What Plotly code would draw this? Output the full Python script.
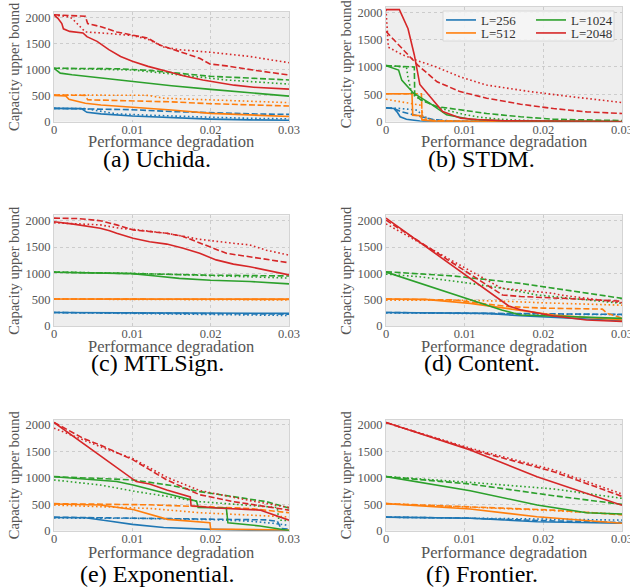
import plotly.graph_objects as go

# ---------------- data ----------------
L_VALUES = [256, 512, 1024, 2048]
L_LABELS = ["L=256", "L=512", "L=1024", "L=2048"]
COLORS = ["#1f77b4", "#ff7f0e", "#2ca02c", "#d62728"]
STYLES = ["solid", "dashed", "dotted"]
X_TICKS = [0, 0.01, 0.02, 0.03]
X_TICK_LABELS = ["0", "0.01", "0.02", "0.03"]
Y_TICKS = [0, 500, 1000, 1500, 2000]
Y_TICK_LABELS = ["0", "500", "1000", "1500", "2000"]
CAPTIONS = ["(a) Uchida.", "(b) STDM.", "(c) MTLSign.", "(d) Content.",
            "(e) Exponential.", "(f) Frontier."]
X_TITLE = "Performance degradation"
Y_TITLE = "Capacity upper bound"

uchida = {
    (256, "solid"): ([0, 0.0035, 0.0042, 0.006, 0.01, 0.015, 0.02, 0.025, 0.03],
                     [256, 250, 180, 150, 110, 80, 50, 35, 28]),
    (256, "dashed"): ([0, 0.005, 0.01, 0.015, 0.02, 0.025, 0.03],
                      [256, 250, 230, 195, 170, 150, 140]),
    (256, "dotted"): ([0, 0.004, 0.006, 0.008, 0.012, 0.015, 0.02, 0.025, 0.03],
                      [256, 250, 200, 150, 125, 105, 85, 65, 55]),
    (512, "solid"): ([0, 0.0015, 0.0019, 0.004, 0.006, 0.0104, 0.015, 0.02, 0.025, 0.03],
                     [505, 495, 430, 355, 320, 275, 225, 160, 125, 100]),
    (512, "dashed"): ([0, 0.004, 0.0043, 0.01, 0.015, 0.02, 0.025, 0.03],
                      [512, 505, 420, 400, 380, 345, 320, 300]),
    (512, "dotted"): ([0, 0.012, 0.014, 0.02, 0.03],
                      [512, 505, 450, 415, 365]),
    (1024, "solid"): ([0, 0.0003, 0.0008, 0.0023, 0.006, 0.01, 0.015, 0.02, 0.025, 0.03],
                      [1024, 990, 930, 900, 835, 770, 690, 620, 550, 490]),
    (1024, "dashed"): ([0, 0.008, 0.012, 0.016, 0.02, 0.025, 0.03],
                       [1024, 1015, 985, 930, 870, 835, 800]),
    (1024, "dotted"): ([0, 0.005, 0.01, 0.014, 0.018, 0.022, 0.026, 0.03],
                       [1024, 1000, 990, 930, 870, 800, 760, 720]),
    (2048, "solid"): ([0, 0.0005, 0.001, 0.0012, 0.002, 0.0037, 0.0042, 0.0055, 0.007, 0.0085,
                       0.01, 0.012, 0.0145, 0.0165, 0.019, 0.021, 0.023, 0.0255, 0.03],
                      [2048, 1980, 1880, 1780, 1730, 1700, 1630, 1540, 1380, 1250,
                       1160, 1060, 960, 880, 800, 750, 700, 660, 625]),
    (2048, "dashed"): ([0, 0.004, 0.0043, 0.006, 0.008, 0.01, 0.012, 0.0135, 0.0152, 0.0169,
                        0.0186, 0.0199, 0.022, 0.0254, 0.03],
                       [2048, 2020, 1880, 1820, 1720, 1660, 1600, 1470, 1390, 1310,
                        1215, 1105, 1070, 990, 895]),
    (2048, "dotted"): ([0, 0.0015, 0.0023, 0.0031, 0.004, 0.007, 0.01, 0.012, 0.014, 0.016,
                        0.02, 0.025, 0.03],
                       [2040, 2020, 1980, 1850, 1720, 1690, 1650, 1580, 1430, 1380,
                        1330, 1250, 1130]),
}

stdm = {
    (256, "solid"): ([0, 0.0006, 0.001, 0.0014, 0.0018, 0.0026, 0.0043, 0.006, 0.03],
                     [256, 250, 240, 180, 90, 45, 12, 3, 0]),
    (256, "dashed"): ([0, 0.001, 0.002, 0.003, 0.0045, 0.006, 0.008, 0.03],
                      [256, 240, 180, 140, 90, 40, 10, 0]),
    (256, "dotted"): ([0, 0.002, 0.004, 0.0047, 0.006, 0.01, 0.03],
                      [256, 240, 210, 100, 30, 5, 0]),
    (512, "solid"): ([0, 0.0033, 0.0034, 0.0044, 0.0046, 0.006, 0.03],
                     [512, 512, 120, 110, 30, 10, 0]),
    (512, "dashed"): ([0, 0.0045, 0.0046, 0.006, 0.01, 0.03],
                      [512, 512, 40, 20, 5, 0]),
    (512, "dotted"): ([0, 0.003, 0.0045, 0.0047, 0.006, 0.01, 0.03],
                      [410, 340, 300, 80, 20, 5, 0]),
    (1024, "solid"): ([0, 0.0016, 0.002, 0.0035, 0.0056, 0.0077, 0.0107, 0.015, 0.03],
                      [1024, 945, 760, 520, 335, 125, 45, 18, 0]),
    (1024, "dashed"): ([0, 0.0036, 0.00365, 0.0044, 0.0065, 0.0094, 0.0128, 0.0171, 0.0213, 0.03],
                       [1024, 1000, 490, 400, 275, 215, 150, 90, 45, 20]),
    (1024, "dotted"): ([0, 0.0026, 0.0028, 0.0033, 0.0045, 0.006, 0.008, 0.01, 0.012, 0.015, 0.02, 0.03],
                       [1024, 1000, 800, 500, 400, 300, 200, 130, 80, 40, 10, 0]),
    (2048, "solid"): ([0, 0.0017, 0.0028, 0.0036, 0.0043, 0.0061, 0.0072, 0.0095, 0.0115, 0.015, 0.03],
                      [2048, 2048, 1700, 1220, 680, 370, 185, 65, 40, 15, 5]),
    (2048, "dashed"): ([0, 0.002, 0.004, 0.0065, 0.0094, 0.0128, 0.0171, 0.0213, 0.0255, 0.03],
                       [1650, 1350, 1040, 730, 550, 430, 320, 240, 180, 150]),
    (2048, "dotted"): ([0, 0.0003, 0.002, 0.0039, 0.0064, 0.0094, 0.0128, 0.0183, 0.0234, 0.03],
                       [2048, 1360, 1230, 1120, 1000, 820, 670, 550, 460, 350]),
}

mtlsign = {
    (256, "solid"): ([0, 0.01, 0.02, 0.03], [256, 250, 245, 240]),
    (256, "dashed"): ([0, 0.01, 0.02, 0.03], [256, 245, 235, 225]),
    (256, "dotted"): ([0, 0.01, 0.02, 0.03], [256, 240, 220, 200]),
    (512, "solid"): ([0, 0.03], [512, 510]),
    (512, "dashed"): ([0, 0.03], [512, 505]),
    (512, "dotted"): ([0, 0.02, 0.03], [510, 505, 495]),
    (1024, "solid"): ([0, 0.005, 0.01, 0.013, 0.016, 0.02, 0.025, 0.03],
                      [1020, 1010, 995, 950, 905, 870, 845, 800]),
    (1024, "dashed"): ([0, 0.003, 0.01, 0.015, 0.02, 0.03],
                       [1024, 1015, 1000, 985, 965, 950]),
    (1024, "dotted"): ([0, 0.003, 0.01, 0.015, 0.02, 0.025, 0.03],
                       [1024, 1020, 1000, 980, 960, 940, 910]),
    (2048, "solid"): ([0, 0.0025, 0.0059, 0.0071, 0.008, 0.0101, 0.0122, 0.0144, 0.0165, 0.0186,
                       0.0207, 0.0229, 0.025, 0.0271, 0.03],
                      [1980, 1935, 1855, 1810, 1760, 1665, 1600, 1555, 1475, 1380,
                       1255, 1175, 1125, 1065, 970]),
    (2048, "dashed"): ([0, 0.003, 0.0059, 0.008, 0.0101, 0.0122, 0.0144, 0.0165, 0.0195, 0.022,
                        0.0254, 0.03],
                       [2048, 2040, 2000, 1920, 1825, 1790, 1760, 1700, 1520, 1380, 1305, 1200]),
    (2048, "dotted"): ([0, 0.0059, 0.0084, 0.0101, 0.0144, 0.0186, 0.0229, 0.025, 0.0271, 0.03],
                       [1960, 1920, 1855, 1835, 1760, 1645, 1570, 1540, 1440, 1345]),
}

content = {
    (256, "solid"): ([0, 0.008, 0.0128, 0.0171, 0.0213, 0.0255, 0.03],
                     [256, 250, 240, 195, 160, 125, 100]),
    (256, "dashed"): ([0, 0.01, 0.02, 0.03], [256, 245, 230, 220]),
    (256, "dotted"): ([0, 0.01, 0.02, 0.03], [250, 240, 225, 215]),
    (512, "solid"): ([0, 0.005, 0.0107, 0.0154, 0.0213, 0.03],
                     [512, 505, 430, 335, 210, 115]),
    (512, "dashed"): ([0, 0.006, 0.0086, 0.0154, 0.02, 0.0275, 0.0281, 0.03],
                      [512, 505, 495, 370, 340, 320, 240, 150]),
    (512, "dotted"): ([0, 0.01, 0.015, 0.02, 0.03], [490, 490, 470, 440, 395]),
    (1024, "solid"): ([0, 0.0147, 0.0171, 0.03], [1024, 305, 210, 145]),
    (1024, "dashed"): ([0, 0.0086, 0.0171, 0.0213, 0.03], [1030, 950, 810, 715, 525]),
    (1024, "dotted"): ([0, 0.0043, 0.0107, 0.0149, 0.0192, 0.03], [985, 935, 810, 715, 590, 430]),
    (2048, "solid"): ([0, 0.0156, 0.0171, 0.0213, 0.0255, 0.03], [2048, 380, 310, 190, 115, 85]),
    (2048, "dashed"): ([0, 0.0148, 0.0171, 0.0208, 0.0255, 0.03], [2010, 590, 560, 530, 505, 470]),
    (2048, "dotted"): ([0, 0.0147, 0.0213, 0.0221, 0.03], [1940, 715, 620, 590, 440]),
}

exponential = {
    (256, "solid"): ([0, 0.004, 0.007, 0.01, 0.014, 0.02, 0.025, 0.03],
                     [250, 245, 185, 120, 60, 25, 10, 0]),
    (256, "dashed"): ([0, 0.004, 0.006, 0.02, 0.025, 0.027, 0.0285, 0.029, 0.03],
                      [256, 250, 235, 225, 215, 205, 180, 40, 30]),
    (256, "dotted"): ([0, 0.01, 0.02, 0.025, 0.028, 0.03], [240, 235, 210, 180, 140, 100]),
    (512, "solid"): ([0, 0.0059, 0.0101, 0.0125, 0.0145, 0.0199, 0.02, 0.03],
                     [505, 485, 400, 300, 215, 150, 30, 12]),
    (512, "dashed"): ([0, 0.007, 0.012, 0.02, 0.025, 0.03], [512, 505, 490, 450, 420, 340]),
    (512, "dotted"): ([0, 0.0059, 0.0123, 0.0186, 0.025, 0.03], [485, 460, 420, 340, 300, 260]),
    (1024, "solid"): ([0, 0.008, 0.0101, 0.0144, 0.0182, 0.0184, 0.022, 0.0222, 0.0263, 0.03],
                      [1020, 930, 865, 710, 560, 440, 430, 150, 90, 5]),
    (1024, "dashed"): ([0, 0.0101, 0.0148, 0.0186, 0.0271, 0.03], [1024, 960, 860, 740, 550, 430]),
    (1024, "dotted"): ([0, 0.0059, 0.0101, 0.0186, 0.0271, 0.0285, 0.0287, 0.03],
                       [960, 865, 750, 550, 455, 440, 200, 190]),
    (2048, "solid"): ([0, 0.0105, 0.0122, 0.0144, 0.0174, 0.0175, 0.0208, 0.0229, 0.0263, 0.03],
                      [2048, 930, 885, 770, 640, 470, 430, 420, 390, 200]),
    (2048, "dashed"): ([0, 0.0037, 0.0059, 0.0101, 0.0144, 0.0186, 0.0229, 0.03],
                       [2048, 1750, 1620, 1340, 960, 680, 550, 390]),
    (2048, "dotted"): ([0, 0.0059, 0.0101, 0.0144, 0.0186, 0.025, 0.03],
                       [1940, 1590, 1360, 1010, 760, 570, 440]),
}

frontier = {
    (256, "solid"): ([0, 0.0107, 0.0192, 0.03], [256, 235, 170, 140]),
    (256, "dashed"): ([0, 0.01, 0.02, 0.03], [256, 240, 190, 155]),
    (256, "dotted"): ([0, 0.01, 0.02, 0.03], [256, 245, 220, 200]),
    (512, "solid"): ([0, 0.0107, 0.0192, 0.03], [512, 410, 265, 140]),
    (512, "dashed"): ([0, 0.0107, 0.0213, 0.03], [512, 455, 390, 300]),
    (512, "dotted"): ([0, 0.0107, 0.0213, 0.03], [512, 450, 380, 310]),
    (1024, "solid"): ([0, 0.0107, 0.0192, 0.0255, 0.03], [1024, 757, 486, 340, 315]),
    (1024, "dashed"): ([0, 0.0107, 0.0213, 0.03], [1024, 883, 662, 498]),
    (1024, "dotted"): ([0, 0.0107, 0.0213, 0.03], [1024, 915, 790, 612]),
    (2048, "solid"): ([0, 0.0107, 0.0192, 0.0255, 0.0294, 0.03], [2048, 1527, 1022, 707, 505, 480]),
    (2048, "dashed"): ([0, 0.0107, 0.0213, 0.03], [2048, 1540, 1117, 650]),
    (2048, "dotted"): ([0, 0.0107, 0.0213, 0.03], [2040, 1560, 1150, 695]),
}

PANELS = [uchida, stdm, mtlsign, content, exponential, frontier]

# ---------------- layout geometry (pixels) ----------------
W, H = 630, 588
COL_X = [(54, 289), (386, 622)]
ROW_Y = [[(12.1, 121.7), (6.8, 121.7)], [(215.4, 326), (215.4, 326)], [(419.7, 530.7), (419.7, 530.7)]]
CAPTION_Y = [159, 363, 574]
CAPTION_X = [157, 482]
XTITLE_Y = [141, 346, 552]
YTITLE_X = [14, 346]

DASH = {"solid": "solid", "dashed": "6px,2.6px", "dotted": "1.6px,2.6px"}
TICK_FONT = dict(family="Liberation Serif", size=12.5, color="#555555")
# legend rows: first row holds L=256 and L=1024, second row L=512 and L=2048
LEGEND_OF = {256: "legend", 1024: "legend", 512: "legend2", 2048: "legend2"}

fig = go.Figure()
annotations = []
layout_axes = {}

for i, panel in enumerate(PANELS):
    r, c = divmod(i, 2)
    n = i + 1
    xa = "x" if n == 1 else f"x{n}"
    ya = "y" if n == 1 else f"y{n}"
    x0, x1 = COL_X[c]
    yt, yb = ROW_Y[r][c]
    layout_axes["xaxis" if n == 1 else f"xaxis{n}"] = dict(
        domain=[x0 / W, x1 / W], anchor=ya, range=[0, 0.03],
        tickvals=X_TICKS, ticktext=X_TICK_LABELS, tickfont=TICK_FONT,
        showgrid=True, gridcolor="#cccccc", griddash="dot", gridwidth=0.8,
        zeroline=False, showline=True, linecolor="#d4d4d4", linewidth=1, mirror=True,
        ticks="", ticklen=0, ticklabelstandoff=-4, ticklabeloverflow="allow",
        fixedrange=True)
    layout_axes["yaxis" if n == 1 else f"yaxis{n}"] = dict(
        domain=[1 - yb / H, 1 - yt / H], anchor=xa, range=[0, 2100],
        tickvals=Y_TICKS, ticktext=Y_TICK_LABELS, tickfont=TICK_FONT,
        showgrid=True, gridcolor="#cccccc", griddash="dot", gridwidth=0.8,
        zeroline=False, showline=True, linecolor="#d4d4d4", linewidth=1, mirror=True,
        ticks="", ticklen=0, ticklabeloverflow="allow", fixedrange=True)

    for li, L in enumerate(L_VALUES):
        for st in STYLES:
            xs, ys = panel[(L, st)]
            show = (i == 1 and st == "solid")
            fig.add_trace(go.Scatter(
                x=xs, y=ys, mode="lines", xaxis=xa, yaxis=ya,
                line=dict(color=COLORS[li], width=1.6, dash=DASH[st]),
                name=L_LABELS[li], showlegend=show,
                legend=LEGEND_OF[L],
                hoverinfo="skip"))

    annotations.append(dict(text=CAPTIONS[i], xref="paper", yref="paper",
                            x=CAPTION_X[c] / W, y=1 - CAPTION_Y[r] / H,
                            xanchor="center", yanchor="middle", showarrow=False,
                            font=dict(family="Liberation Serif", size=24, color="black")))
    annotations.append(dict(text=X_TITLE, xref="paper", yref="paper",
                            x=(x0 + x1) / 2 / W, y=1 - XTITLE_Y[r] / H,
                            xanchor="center", yanchor="middle", showarrow=False,
                            font=dict(family="Liberation Serif", size=16.5, color="#555555")))
    annotations.append(dict(text=Y_TITLE, xref="paper", yref="paper",
                            x=YTITLE_X[c] / W, y=1 - (yt + yb) / 2 / H,
                            xanchor="center", yanchor="middle", showarrow=False, textangle=-90,
                            font=dict(family="Liberation Serif", size=14.5, color="#555555")))

legend_common = dict(bgcolor="rgba(0,0,0,0)", borderwidth=0, itemwidth=30,
                     font=dict(family="Liberation Serif", size=13, color="#333333"),
                     xanchor="left", yanchor="middle", orientation="h",
                     entrywidth=45, entrywidthmode="pixels")

fig.update_layout(
    width=W, height=H, margin=dict(l=0, r=0, t=0, b=0, autoexpand=False),
    paper_bgcolor="white", plot_bgcolor="#eeeeee",
    annotations=annotations,
    legend=dict(x=441 / W, y=1 - 20 / H, **legend_common),
    legend2=dict(x=441 / W, y=1 - 33 / H, **legend_common),
    shapes=[dict(type="rect", xref="paper", yref="paper",
                 x0=443 / W, x1=614 / W, y0=1 - 41 / H, y1=1 - 11 / H,
                 fillcolor="rgba(246,246,246,0.85)", line=dict(color="#d8d8d8", width=1),
                 layer="above")],
    **layout_axes,
)

fig.write_html("out.html", config={"displayModeBar": False},
               post_script="document.body.style.margin='0px';")
